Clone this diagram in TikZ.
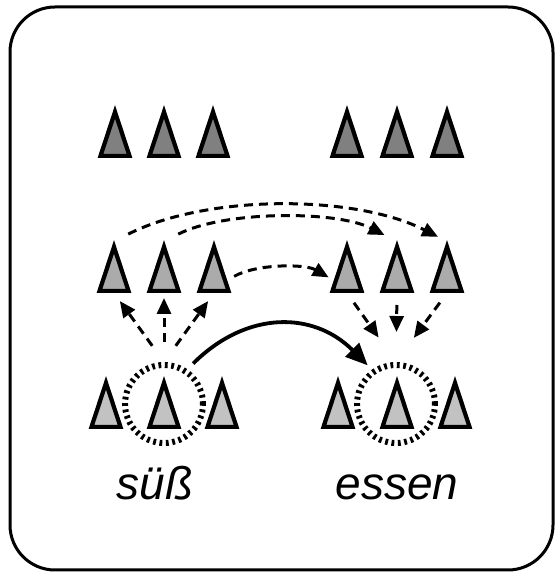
\documentclass[tikz,border=0pt]{standalone}
\usepackage{fontspec}
\setmainfont{Liberation Sans}
\usetikzlibrary{shapes.geometric,arrows.meta}

\begin{document}
\begin{tikzpicture}[x=0.5pt,y=0.5pt,
  tri/.style={draw,line width=2.1pt,shape=isosceles triangle,shape border rotate=90,
    isosceles triangle stretches,minimum width=14.5pt,minimum height=22pt,inner sep=0pt,anchor=south},
  toptri/.style={tri,fill=black!50},
  midtri/.style={tri,fill=black!33},
  lowtri/.style={tri,fill=black!24},
  focus/.style={circle,draw,line width=3pt,dash pattern=on 1.4pt off 1.8pt,minimum size=39pt,inner sep=0pt},
  dashlink/.style={line width=1.5pt,dash pattern=on 4.5pt off 3pt,-{Triangle[length=8pt,width=7pt]}},
  solidlink/.style={line width=1.9pt,-{Triangle[length=11pt,width=9.5pt]}},
  word/.style={anchor=base,font=\fontsize{23}{28}\selectfont\itshape}]
\useasboundingbox (0,0) rectangle (556,573);
\draw [line width=1.5pt,rounded corners=22.5pt](10,3) rectangle (553,566); % Rahmen

% obere Reihe
\node [toptri] (tl1) at (115,415) {};
\node [toptri] (tl2) at (164,415) {};
\node [toptri] (tl3) at (213,415) {};
\node [toptri] (tr1) at (347,415) {};
\node [toptri] (tr2) at (397,415) {};
\node [toptri] (tr3) at (447,415) {};

% mittlere Reihe
\node [midtri] (ml1) at (114,280) {};
\node [midtri] (ml2) at (164,280) {};
\node [midtri] (ml3) at (214,280) {};
\node [midtri] (mr1) at (347,280) {};
\node [midtri] (mr2) at (397,280) {};
\node [midtri] (mr3) at (447,280) {};

% untere Reihe
\node [lowtri] (ll1) at (106,144) {};
\node [lowtri] (ll2) at (164,144) {};
\node [lowtri] (ll3) at (222,144) {};
\node [lowtri] (lr1) at (338,144) {};
\node [lowtri] (lr2) at (397,144) {};
\node [lowtri] (lr3) at (455,144) {};

\node [focus] (cl) at (164,169) {}; % Kreis links
\node [focus] (cr) at (396,169) {}; % Kreis rechts

\node [word] (ws) at (155,73) {süß};
\node [word] (we) at (397,73) {essen};

% nach oben
\draw [dashlink,shorten <=10pt,shorten >=5pt] (cl.north) -- (ml1.south);
\draw [dashlink,shorten <=10pt,shorten >=2.5pt] (cl.north) -- (ml2.south);
\draw [dashlink,shorten <=10pt,shorten >=5pt] (cl.north) -- (ml3.south);

% nach unten
\draw [dashlink,shorten <=6pt,shorten >=15pt] (mr1.south) -- (cr.north);
\draw [dashlink,shorten <=6pt,shorten >=15pt] (mr2.south) -- (cr.north);
\draw [dashlink,shorten <=6pt,shorten >=15pt] (mr3.south) -- (cr.north);

% Boegen
\draw [dashlink,shorten <=8pt,shorten >=5pt] (ml1.north) to [bend left=27,looseness=0.8] (mr3.north);
\draw [dashlink,shorten <=8pt,shorten >=7pt] (ml2.north) to [bend left=27,looseness=0.75] (mr2.north);
\draw [dashlink,shorten <=4pt,shorten >=3pt] (ml3.east) to [bend left=30,looseness=0.8] (mr1.west);
\draw [solidlink,shorten <=4pt,shorten >=3pt] (cl.56) to [bend left=45,looseness=1.15] (cr.125);

\end{tikzpicture}
\end{document}
